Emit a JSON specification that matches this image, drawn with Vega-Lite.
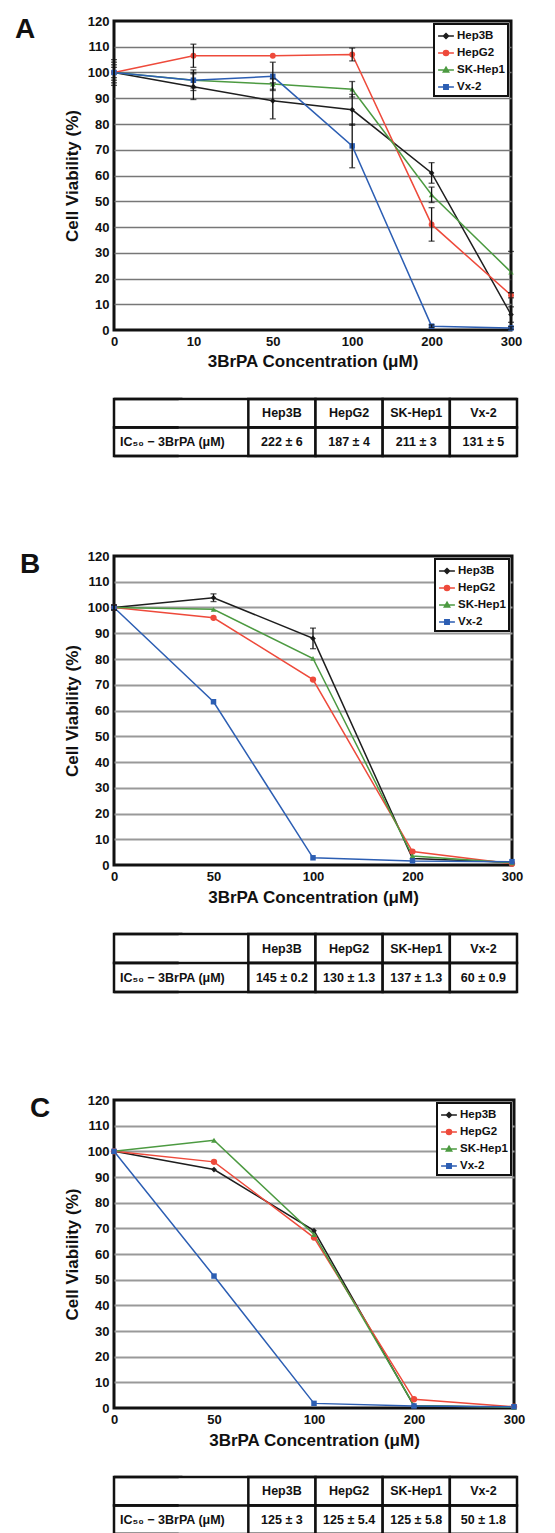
{
  "$schema": "https://vega.github.io/schema/vega-lite/v6.json",
  "padding": {"left": 13, "top": 13, "right": 5, "bottom": 0},
  "background": "white",
  "bounds": "flush",
  "spacing": 69,
  "config": {
    "font": "Liberation Sans",
    "view": {"stroke": "#111", "strokeWidth": 3},
    "axis": {"labelFont": "Liberation Sans", "titleFont": "Liberation Sans", "labelColor": "#111", "titleColor": "#111"},
    "legend": {"labelFont": "Liberation Sans"}
  },
  "resolve": {
    "scale": {"x": "independent", "y": "independent", "color": "independent"},
    "legend": {"color": "independent"}
  },
  "vconcat": [
    {
      "width": 397, "height": 309,
      "title": {"text": "A", "anchor": "start", "frame": "group", "orient": "top", "offset": 0, "dx": -99, "dy": 29, "fontSize": 28, "fontWeight": "bold", "color": "#111"},
      "data": {"values": [
        {"conc": 0, "line": "Hep3B", "v": 100, "err": 5},
        {"conc": 10, "line": "Hep3B", "v": 94.5, "err": 5},
        {"conc": 50, "line": "Hep3B", "v": 89, "err": 7},
        {"conc": 100, "line": "Hep3B", "v": 85.5, "err": 6},
        {"conc": 200, "line": "Hep3B", "v": 61, "err": 4},
        {"conc": 300, "line": "Hep3B", "v": 6, "err": 3},
        {"conc": 0, "line": "HepG2", "v": 100, "err": 3},
        {"conc": 10, "line": "HepG2", "v": 106.5, "err": 4.5},
        {"conc": 50, "line": "HepG2", "v": 106.5, "err": 0},
        {"conc": 100, "line": "HepG2", "v": 107, "err": 2.5},
        {"conc": 200, "line": "HepG2", "v": 41, "err": 6.5},
        {"conc": 300, "line": "HepG2", "v": 13.5, "err": 1},
        {"conc": 0, "line": "SK-Hep1", "v": 100, "err": 4},
        {"conc": 10, "line": "SK-Hep1", "v": 97, "err": 3},
        {"conc": 50, "line": "SK-Hep1", "v": 95.5, "err": 2},
        {"conc": 100, "line": "SK-Hep1", "v": 93.5, "err": 3},
        {"conc": 200, "line": "SK-Hep1", "v": 52.5, "err": 3},
        {"conc": 300, "line": "SK-Hep1", "v": 22.5, "err": 8},
        {"conc": 0, "line": "Vx-2", "v": 100, "err": 2},
        {"conc": 10, "line": "Vx-2", "v": 97, "err": 4},
        {"conc": 50, "line": "Vx-2", "v": 98.5, "err": 5.5},
        {"conc": 100, "line": "Vx-2", "v": 71.5, "err": 8.5},
        {"conc": 200, "line": "Vx-2", "v": 1.5, "err": 0.5},
        {"conc": 300, "line": "Vx-2", "v": 0.8, "err": 0.5}
      ]},
      "encoding": {
        "x": {"field": "conc", "type": "ordinal", "scale": {"type": "point", "padding": 0},
          "axis": {"title": "3BrPA Concentration (μM)", "labelAngle": 0, "grid": false, "domain": false, "ticks": false, "labelFontSize": 13, "labelFontWeight": "bold", "labelPadding": 5, "titleFontSize": 17, "titleFontWeight": "bold", "titlePadding": 5}},
        "y": {"field": "v", "type": "quantitative", "scale": {"domain": [0, 120], "nice": false},
          "axis": {"title": "Cell Viability (%)", "values": [0,10,20,30,40,50,60,70,80,90,100,110,120], "grid": true, "gridColor": "#777", "gridWidth": 1.3,
            "gridOpacity": {"condition": {"test": "datum.value === 0 || datum.value === 120", "value": 0}, "value": 1},
            "domain": false, "ticks": false, "labelFontSize": 13, "labelFontWeight": "bold", "labelPadding": 5, "titleFontSize": 17, "titleFontWeight": "bold", "titlePadding": 6}},
        "color": {"field": "line", "type": "nominal",
          "scale": {"domain": ["Hep3B", "HepG2", "SK-Hep1", "Vx-2"], "range": ["#1e1e1e", "#ee4a3b", "#4c9a41", "#2c5eb3"]},
          "legend": {"title": null, "orient": "top-right", "offset": 3, "padding": 3, "fillColor": "white", "strokeColor": "#111", "labelFontSize": 11.5, "labelFontWeight": "bold", "labelColor": "#111", "labelOffset": 2, "symbolSize": 250, "rowPadding": 2,
            "encode": {"legend": {"update": {"strokeWidth": {"value": 2}}},
              "symbols": {"update": {
                "shape": {"signal": "datum.value === 'Hep3B' ? 'M-1,0H1M0,-0.32L0.32,0L0,0.32L-0.32,0Z' : datum.value === 'HepG2' ? 'M-1,0H1M0.32,0A0.32,0.32,0,1,1,-0.32,0A0.32,0.32,0,1,1,0.32,0Z' : datum.value === 'SK-Hep1' ? 'M-1,0H1M0,-0.36L0.34,0.24H-0.34Z' : 'M-1,0H1M-0.28,-0.28H0.28V0.28H-0.28Z'"},
                "fill": {"signal": "datum.value === 'Hep3B' ? '#1e1e1e' : datum.value === 'HepG2' ? '#ee4a3b' : datum.value === 'SK-Hep1' ? '#4c9a41' : '#2c5eb3'"},
                "stroke": {"signal": "datum.value === 'Hep3B' ? '#1e1e1e' : datum.value === 'HepG2' ? '#ee4a3b' : datum.value === 'SK-Hep1' ? '#4c9a41' : '#2c5eb3'"},
                "strokeWidth": {"value": 1.5}, "opacity": {"value": 1}, "fillOpacity": {"value": 1}}}}}}
      },
      "layer": [
        {"mark": {"type": "line", "strokeWidth": 1.5}},
        {"transform": [{"filter": "datum.line === 'Hep3B'"}], "mark": {"type": "point", "filled": true, "size": 32, "opacity": 1, "shape": "diamond"}},
        {"transform": [{"filter": "datum.line === 'HepG2'"}], "mark": {"type": "point", "filled": true, "size": 34, "opacity": 1, "shape": "circle"}},
        {"transform": [{"filter": "datum.line === 'SK-Hep1'"}], "mark": {"type": "point", "filled": true, "size": 30, "opacity": 1, "shape": "triangle-up"}},
        {"transform": [{"filter": "datum.line === 'Vx-2'"}], "mark": {"type": "point", "filled": true, "size": 30, "opacity": 1, "shape": "square"}},
        {"transform": [{"filter": "datum.err > 0"}],
          "mark": {"type": "errorbar", "ticks": {"size": 6}, "thickness": 1.3},
          "encoding": {"yError": {"field": "err"}, "color": {"value": "#111"}}}
      ]
    },
    {
      "width": 403, "height": 88,
      "view": {"stroke": null},
      "data": {"values": [
        {"row": "hdr", "col": "label", "text": ""},
        {"row": "val", "col": "label", "text": "IC₅₀ − 3BrPA (μM)"},
        {"row": "hdr", "col": "Hep3B", "text": "Hep3B"},
        {"row": "val", "col": "Hep3B", "text": "222 ± 6"},
        {"row": "hdr", "col": "HepG2", "text": "HepG2"},
        {"row": "val", "col": "HepG2", "text": "187 ±  4"},
        {"row": "hdr", "col": "SK-Hep1", "text": "SK-Hep1"},
        {"row": "val", "col": "SK-Hep1", "text": "211 ±  3"},
        {"row": "hdr", "col": "Vx-2", "text": "Vx-2"},
        {"row": "val", "col": "Vx-2", "text": "131 ±  5"}
      ]},
      "layer": [
        {"mark": {"type": "rect", "fill": "white", "stroke": "#111", "strokeWidth": 2.5},
          "encoding": {
            "x": {"field": "col", "type": "nominal", "scale": {"type": "band", "domain": ["label", "label2", "Hep3B", "HepG2", "SK-Hep1", "Vx-2"], "paddingInner": 0, "paddingOuter": 0}, "axis": null},
            "y": {"field": "row", "type": "nominal", "scale": {"type": "band", "domain": ["hdr", "val"], "paddingInner": 0, "paddingOuter": 0.544, "align": 0}, "axis": null}}},
        {"transform": [{"filter": "datum.col === 'label' && datum.row === 'hdr'"}],
          "mark": {"type": "rule", "color": "white", "strokeWidth": 5},
          "encoding": {"x": {"field": "col", "type": "nominal", "bandPosition": 1}}},
        {"transform": [{"filter": "datum.col === 'Hep3B'"}],
          "mark": {"type": "rule", "color": "#111", "strokeWidth": 2.5},
          "encoding": {"y": {"field": "row", "type": "nominal", "bandPosition": 0}}},
        {"transform": [{"filter": "datum.col === 'Hep3B' && datum.row === 'val'"}],
          "mark": {"type": "rule", "color": "#111", "strokeWidth": 2.5},
          "encoding": {"y": {"field": "row", "type": "nominal", "bandPosition": 1}}},
        {"transform": [{"filter": "datum.col !== 'label'"}],
          "mark": {"type": "text", "fontSize": 12.5, "fontWeight": "bold", "color": "#111", "baseline": "middle"},
          "encoding": {"x": {"field": "col", "type": "nominal", "bandPosition": 0.5}, "y": {"field": "row", "type": "nominal", "bandPosition": 0.5}, "text": {"field": "text"}}},
        {"transform": [{"filter": "datum.col === 'label'"}],
          "mark": {"type": "text", "fontSize": 12.5, "fontWeight": "bold", "color": "#111", "align": "left", "dx": 6, "baseline": "middle"},
          "encoding": {"x": {"field": "col", "type": "nominal", "bandPosition": 0}, "y": {"field": "row", "type": "nominal", "bandPosition": 0.5}, "text": {"field": "text"}}}
      ]
    },
    {
      "width": 398, "height": 309,
      "title": {"text": "B", "anchor": "start", "frame": "group", "orient": "top", "offset": 0, "dx": -94, "dy": 29, "fontSize": 28, "fontWeight": "bold", "color": "#111"},
      "data": {"values": [
        {"conc": 0, "line": "Hep3B", "v": 100, "err": 1},
        {"conc": 50, "line": "Hep3B", "v": 103.8, "err": 1.5},
        {"conc": 100, "line": "Hep3B", "v": 88, "err": 4},
        {"conc": 200, "line": "Hep3B", "v": 2.5, "err": 0},
        {"conc": 300, "line": "Hep3B", "v": 1, "err": 0},
        {"conc": 0, "line": "HepG2", "v": 100, "err": 1},
        {"conc": 50, "line": "HepG2", "v": 96, "err": 0},
        {"conc": 100, "line": "HepG2", "v": 72, "err": 0},
        {"conc": 200, "line": "HepG2", "v": 5.2, "err": 0},
        {"conc": 300, "line": "HepG2", "v": 0.5, "err": 0},
        {"conc": 0, "line": "SK-Hep1", "v": 100, "err": 0},
        {"conc": 50, "line": "SK-Hep1", "v": 99.3, "err": 0},
        {"conc": 100, "line": "SK-Hep1", "v": 80.2, "err": 0},
        {"conc": 200, "line": "SK-Hep1", "v": 3.5, "err": 0},
        {"conc": 300, "line": "SK-Hep1", "v": 0.8, "err": 0},
        {"conc": 0, "line": "Vx-2", "v": 100, "err": 0},
        {"conc": 50, "line": "Vx-2", "v": 63.4, "err": 0},
        {"conc": 100, "line": "Vx-2", "v": 2.8, "err": 0},
        {"conc": 200, "line": "Vx-2", "v": 1.6, "err": 0},
        {"conc": 300, "line": "Vx-2", "v": 1.3, "err": 0}
      ]},
      "encoding": {
        "x": {"field": "conc", "type": "ordinal", "scale": {"type": "point", "padding": 0},
          "axis": {"title": "3BrPA Concentration (μM)", "labelAngle": 0, "grid": false, "domain": false, "ticks": false, "labelFontSize": 13, "labelFontWeight": "bold", "labelPadding": 5, "titleFontSize": 17, "titleFontWeight": "bold", "titlePadding": 6}},
        "y": {"field": "v", "type": "quantitative", "scale": {"domain": [0, 120], "nice": false},
          "axis": {"title": "Cell Viability (%)", "values": [0,10,20,30,40,50,60,70,80,90,100,110,120], "grid": true, "gridColor": "#999", "gridWidth": 2,
            "gridOpacity": {"condition": {"test": "datum.value === 0 || datum.value === 120", "value": 0}, "value": 1},
            "domain": false, "ticks": false, "labelFontSize": 13, "labelFontWeight": "bold", "labelPadding": 5, "titleFontSize": 17, "titleFontWeight": "bold", "titlePadding": 6}},
        "color": {"field": "line", "type": "nominal",
          "scale": {"domain": ["Hep3B", "HepG2", "SK-Hep1", "Vx-2"], "range": ["#1e1e1e", "#ee4a3b", "#4c9a41", "#2c5eb3"]},
          "legend": {"title": null, "orient": "top-right", "offset": 3, "padding": 3, "fillColor": "white", "strokeColor": "#111", "labelFontSize": 11.5, "labelFontWeight": "bold", "labelColor": "#111", "labelOffset": 2, "symbolSize": 250, "rowPadding": 2,
            "encode": {"legend": {"update": {"strokeWidth": {"value": 2}}},
              "symbols": {"update": {
                "shape": {"signal": "datum.value === 'Hep3B' ? 'M-1,0H1M0,-0.32L0.32,0L0,0.32L-0.32,0Z' : datum.value === 'HepG2' ? 'M-1,0H1M0.32,0A0.32,0.32,0,1,1,-0.32,0A0.32,0.32,0,1,1,0.32,0Z' : datum.value === 'SK-Hep1' ? 'M-1,0H1M0,-0.36L0.34,0.24H-0.34Z' : 'M-1,0H1M-0.28,-0.28H0.28V0.28H-0.28Z'"},
                "fill": {"signal": "datum.value === 'Hep3B' ? '#1e1e1e' : datum.value === 'HepG2' ? '#ee4a3b' : datum.value === 'SK-Hep1' ? '#4c9a41' : '#2c5eb3'"},
                "stroke": {"signal": "datum.value === 'Hep3B' ? '#1e1e1e' : datum.value === 'HepG2' ? '#ee4a3b' : datum.value === 'SK-Hep1' ? '#4c9a41' : '#2c5eb3'"},
                "strokeWidth": {"value": 1.5}, "opacity": {"value": 1}, "fillOpacity": {"value": 1}}}}}}
      },
      "layer": [
        {"mark": {"type": "line", "strokeWidth": 1.5}},
        {"transform": [{"filter": "datum.line === 'Hep3B'"}], "mark": {"type": "point", "filled": true, "size": 32, "opacity": 1, "shape": "diamond"}},
        {"transform": [{"filter": "datum.line === 'HepG2'"}], "mark": {"type": "point", "filled": true, "size": 40, "opacity": 1, "shape": "circle"}},
        {"transform": [{"filter": "datum.line === 'SK-Hep1'"}], "mark": {"type": "point", "filled": true, "size": 30, "opacity": 1, "shape": "triangle-up"}},
        {"transform": [{"filter": "datum.line === 'Vx-2'"}], "mark": {"type": "point", "filled": true, "size": 30, "opacity": 1, "shape": "square"}},
        {"transform": [{"filter": "datum.err > 0"}],
          "mark": {"type": "errorbar", "ticks": {"size": 6}, "thickness": 1.3},
          "encoding": {"yError": {"field": "err"}, "color": {"value": "#111"}}}
      ]
    },
    {
      "width": 403, "height": 97,
      "view": {"stroke": null},
      "data": {"values": [
        {"row": "hdr", "col": "label", "text": ""},
        {"row": "val", "col": "label", "text": "IC₅₀ − 3BrPA (μM)"},
        {"row": "hdr", "col": "Hep3B", "text": "Hep3B"},
        {"row": "val", "col": "Hep3B", "text": "145 ± 0.2"},
        {"row": "hdr", "col": "HepG2", "text": "HepG2"},
        {"row": "val", "col": "HepG2", "text": "130 ± 1.3"},
        {"row": "hdr", "col": "SK-Hep1", "text": "SK-Hep1"},
        {"row": "val", "col": "SK-Hep1", "text": "137 ± 1.3"},
        {"row": "hdr", "col": "Vx-2", "text": "Vx-2"},
        {"row": "val", "col": "Vx-2", "text": "60 ± 0.9"}
      ]},
      "layer": [
        {"mark": {"type": "rect", "fill": "white", "stroke": "#111", "strokeWidth": 2.5},
          "encoding": {
            "x": {"field": "col", "type": "nominal", "scale": {"type": "band", "domain": ["label", "label2", "Hep3B", "HepG2", "SK-Hep1", "Vx-2"], "paddingInner": 0, "paddingOuter": 0}, "axis": null},
            "y": {"field": "row", "type": "nominal", "scale": {"type": "band", "domain": ["hdr", "val"], "paddingInner": 0, "paddingOuter": 0.672, "align": 0}, "axis": null}}},
        {"transform": [{"filter": "datum.col === 'label' && datum.row === 'hdr'"}],
          "mark": {"type": "rule", "color": "white", "strokeWidth": 5},
          "encoding": {"x": {"field": "col", "type": "nominal", "bandPosition": 1}}},
        {"transform": [{"filter": "datum.col === 'Hep3B'"}],
          "mark": {"type": "rule", "color": "#111", "strokeWidth": 2.5},
          "encoding": {"y": {"field": "row", "type": "nominal", "bandPosition": 0}}},
        {"transform": [{"filter": "datum.col === 'Hep3B' && datum.row === 'val'"}],
          "mark": {"type": "rule", "color": "#111", "strokeWidth": 2.5},
          "encoding": {"y": {"field": "row", "type": "nominal", "bandPosition": 1}}},
        {"transform": [{"filter": "datum.col !== 'label'"}],
          "mark": {"type": "text", "fontSize": 12.5, "fontWeight": "bold", "color": "#111", "baseline": "middle"},
          "encoding": {"x": {"field": "col", "type": "nominal", "bandPosition": 0.5}, "y": {"field": "row", "type": "nominal", "bandPosition": 0.5}, "text": {"field": "text"}}},
        {"transform": [{"filter": "datum.col === 'label'"}],
          "mark": {"type": "text", "fontSize": 12.5, "fontWeight": "bold", "color": "#111", "align": "left", "dx": 6, "baseline": "middle"},
          "encoding": {"x": {"field": "col", "type": "nominal", "bandPosition": 0}, "y": {"field": "row", "type": "nominal", "bandPosition": 0.5}, "text": {"field": "text"}}}
      ]
    },
    {
      "width": 400, "height": 308,
      "title": {"text": "C", "anchor": "start", "frame": "group", "orient": "top", "offset": 0, "dx": -84, "dy": 29, "fontSize": 28, "fontWeight": "bold", "color": "#111"},
      "data": {"values": [
        {"conc": 0, "line": "Hep3B", "v": 100},
        {"conc": 50, "line": "Hep3B", "v": 92.9},
        {"conc": 100, "line": "Hep3B", "v": 69.1},
        {"conc": 200, "line": "Hep3B", "v": 0.8},
        {"conc": 300, "line": "Hep3B", "v": 0.3},
        {"conc": 0, "line": "HepG2", "v": 100},
        {"conc": 50, "line": "HepG2", "v": 95.9},
        {"conc": 100, "line": "HepG2", "v": 66.4},
        {"conc": 200, "line": "HepG2", "v": 3.4},
        {"conc": 300, "line": "HepG2", "v": 0.5},
        {"conc": 0, "line": "SK-Hep1", "v": 100},
        {"conc": 50, "line": "SK-Hep1", "v": 104.3},
        {"conc": 100, "line": "SK-Hep1", "v": 67.6},
        {"conc": 200, "line": "SK-Hep1", "v": 1},
        {"conc": 300, "line": "SK-Hep1", "v": 0.3},
        {"conc": 0, "line": "Vx-2", "v": 100},
        {"conc": 50, "line": "Vx-2", "v": 51.4},
        {"conc": 100, "line": "Vx-2", "v": 1.8},
        {"conc": 200, "line": "Vx-2", "v": 0.8},
        {"conc": 300, "line": "Vx-2", "v": 0.5}
      ]},
      "encoding": {
        "x": {"field": "conc", "type": "ordinal", "scale": {"type": "point", "padding": 0},
          "axis": {"title": "3BrPA Concentration (μM)", "labelAngle": 0, "grid": false, "domain": false, "ticks": false, "labelFontSize": 13, "labelFontWeight": "bold", "labelPadding": 5, "titleFontSize": 17, "titleFontWeight": "bold", "titlePadding": 6}},
        "y": {"field": "v", "type": "quantitative", "scale": {"domain": [0, 120], "nice": false},
          "axis": {"title": "Cell Viability (%)", "values": [0,10,20,30,40,50,60,70,80,90,100,110,120], "grid": true, "gridColor": "#999", "gridWidth": 2,
            "gridOpacity": {"condition": {"test": "datum.value === 0 || datum.value === 120", "value": 0}, "value": 1},
            "domain": false, "ticks": false, "labelFontSize": 13, "labelFontWeight": "bold", "labelPadding": 5, "titleFontSize": 17, "titleFontWeight": "bold", "titlePadding": 6}},
        "color": {"field": "line", "type": "nominal",
          "scale": {"domain": ["Hep3B", "HepG2", "SK-Hep1", "Vx-2"], "range": ["#1e1e1e", "#ee4a3b", "#4c9a41", "#2c5eb3"]},
          "legend": {"title": null, "orient": "top-right", "offset": 3, "padding": 3, "fillColor": "white", "strokeColor": "#111", "labelFontSize": 11.5, "labelFontWeight": "bold", "labelColor": "#111", "labelOffset": 2, "symbolSize": 250, "rowPadding": 2,
            "encode": {"legend": {"update": {"strokeWidth": {"value": 2}}},
              "symbols": {"update": {
                "shape": {"signal": "datum.value === 'Hep3B' ? 'M-1,0H1M0,-0.32L0.32,0L0,0.32L-0.32,0Z' : datum.value === 'HepG2' ? 'M-1,0H1M0.32,0A0.32,0.32,0,1,1,-0.32,0A0.32,0.32,0,1,1,0.32,0Z' : datum.value === 'SK-Hep1' ? 'M-1,0H1M0,-0.36L0.34,0.24H-0.34Z' : 'M-1,0H1M-0.28,-0.28H0.28V0.28H-0.28Z'"},
                "fill": {"signal": "datum.value === 'Hep3B' ? '#1e1e1e' : datum.value === 'HepG2' ? '#ee4a3b' : datum.value === 'SK-Hep1' ? '#4c9a41' : '#2c5eb3'"},
                "stroke": {"signal": "datum.value === 'Hep3B' ? '#1e1e1e' : datum.value === 'HepG2' ? '#ee4a3b' : datum.value === 'SK-Hep1' ? '#4c9a41' : '#2c5eb3'"},
                "strokeWidth": {"value": 1.5}, "opacity": {"value": 1}, "fillOpacity": {"value": 1}}}}}}
      },
      "layer": [
        {"mark": {"type": "line", "strokeWidth": 1.5}},
        {"transform": [{"filter": "datum.line === 'Hep3B'"}], "mark": {"type": "point", "filled": true, "size": 32, "opacity": 1, "shape": "diamond"}},
        {"transform": [{"filter": "datum.line === 'HepG2'"}], "mark": {"type": "point", "filled": true, "size": 40, "opacity": 1, "shape": "circle"}},
        {"transform": [{"filter": "datum.line === 'SK-Hep1'"}], "mark": {"type": "point", "filled": true, "size": 34, "opacity": 1, "shape": "triangle-up"}},
        {"transform": [{"filter": "datum.line === 'Vx-2'"}], "mark": {"type": "point", "filled": true, "size": 30, "opacity": 1, "shape": "square"}}
      ]
    },
    {
      "width": 403, "height": 57,
      "view": {"stroke": null},
      "data": {"values": [
        {"row": "hdr", "col": "label", "text": ""},
        {"row": "val", "col": "label", "text": "IC₅₀ − 3BrPA (μM)"},
        {"row": "hdr", "col": "Hep3B", "text": "Hep3B"},
        {"row": "val", "col": "Hep3B", "text": "125 ± 3"},
        {"row": "hdr", "col": "HepG2", "text": "HepG2"},
        {"row": "val", "col": "HepG2", "text": "125 ± 5.4"},
        {"row": "hdr", "col": "SK-Hep1", "text": "SK-Hep1"},
        {"row": "val", "col": "SK-Hep1", "text": "125 ± 5.8"},
        {"row": "hdr", "col": "Vx-2", "text": "Vx-2"},
        {"row": "val", "col": "Vx-2", "text": "50 ± 1.8"}
      ]},
      "layer": [
        {"mark": {"type": "rect", "fill": "white", "stroke": "#111", "strokeWidth": 2.5},
          "encoding": {
            "x": {"field": "col", "type": "nominal", "scale": {"type": "band", "domain": ["label", "label2", "Hep3B", "HepG2", "SK-Hep1", "Vx-2"], "paddingInner": 0, "paddingOuter": 0}, "axis": null},
            "y": {"field": "row", "type": "nominal", "scale": {"type": "band", "domain": ["hdr", "val"], "paddingInner": 0, "paddingOuter": 0, "align": 0}, "axis": null}}},
        {"transform": [{"filter": "datum.col === 'label' && datum.row === 'hdr'"}],
          "mark": {"type": "rule", "color": "white", "strokeWidth": 5},
          "encoding": {"x": {"field": "col", "type": "nominal", "bandPosition": 1}}},
        {"transform": [{"filter": "datum.col === 'Hep3B'"}],
          "mark": {"type": "rule", "color": "#111", "strokeWidth": 2.5},
          "encoding": {"y": {"field": "row", "type": "nominal", "bandPosition": 0}}},
        {"transform": [{"filter": "datum.col === 'Hep3B' && datum.row === 'val'"}],
          "mark": {"type": "rule", "color": "#111", "strokeWidth": 2.5},
          "encoding": {"y": {"field": "row", "type": "nominal", "bandPosition": 1}}},
        {"transform": [{"filter": "datum.col !== 'label'"}],
          "mark": {"type": "text", "fontSize": 12.5, "fontWeight": "bold", "color": "#111", "baseline": "middle"},
          "encoding": {"x": {"field": "col", "type": "nominal", "bandPosition": 0.5}, "y": {"field": "row", "type": "nominal", "bandPosition": 0.5}, "text": {"field": "text"}}},
        {"transform": [{"filter": "datum.col === 'label'"}],
          "mark": {"type": "text", "fontSize": 12.5, "fontWeight": "bold", "color": "#111", "align": "left", "dx": 6, "baseline": "middle"},
          "encoding": {"x": {"field": "col", "type": "nominal", "bandPosition": 0}, "y": {"field": "row", "type": "nominal", "bandPosition": 0.5}, "text": {"field": "text"}}}
      ]
    }
  ]
}
